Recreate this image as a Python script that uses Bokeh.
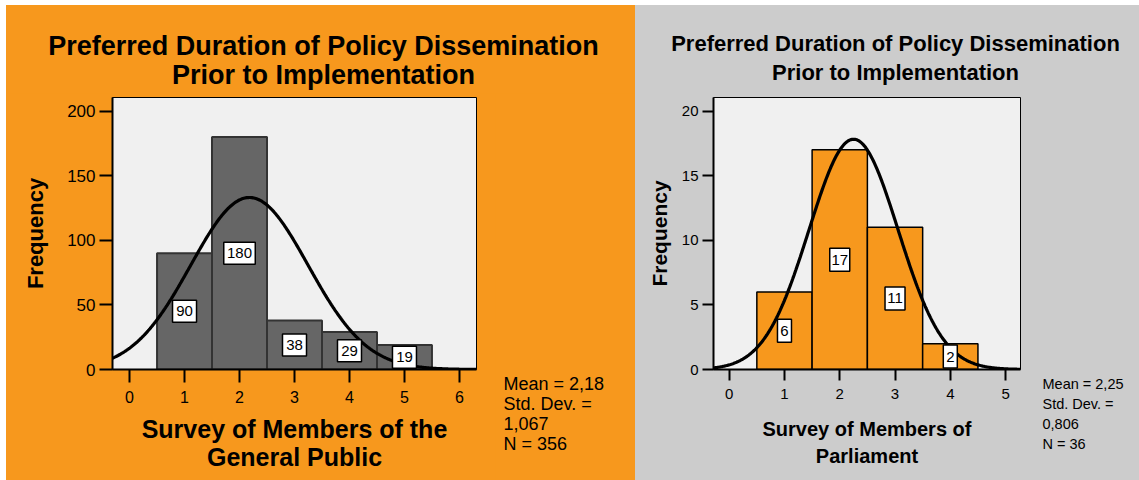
import numpy as np
from bokeh.plotting import figure
from bokeh.layouts import row, column
from bokeh.models import Spacer, Range1d
from bokeh.embed import file_html
from bokeh.resources import INLINE
from bokeh.core.properties import value

# ---------------- data ----------------
title_lines = ["Preferred Duration of Policy Dissemination", "Prior to Implementation"]

gp_values = [1, 2, 3, 4, 5]
gp_counts = [90, 180, 38, 29, 19]
gp_mean, gp_sd, gp_n = 2.18, 1.067, 356
gp_stats = ["Mean = 2,18", "Std. Dev. =", "1,067", "N = 356"]
gp_xticks = [0, 1, 2, 3, 4, 5, 6]
gp_yticks = [0, 50, 100, 150, 200]
gp_xlabel = "Survey of Members of the\nGeneral Public"

mp_values = [1, 2, 3, 4]
mp_counts = [6, 17, 11, 2]
mp_mean, mp_sd, mp_n = 2.25, 0.806, 36
mp_stats = ["Mean = 2,25", "Std. Dev. =", "0,806", "N = 36"]
mp_xticks = [0, 1, 2, 3, 4, 5]
mp_yticks = [0, 5, 10, 15, 20]
mp_xlabel = "Survey of Members of\nParliament"

FONT = "Liberation Sans"
ORANGE = "#F7981D"
GRAY = "#CCCCCC"
TITLE_H = 88     # height of the title strip
CHART_H = 387    # height of the chart strip
CTOP = 4         # gap between title strip and plot frame
FH = 272         # plot frame height


def text_canvas(w, h, bg):
    """A borderless figure whose frame is the whole canvas (pixel coordinates, y down)."""
    f = figure(width=w, height=h, x_range=Range1d(0, w), y_range=Range1d(h, 0),
               output_backend="svg", toolbar_location=None,
               min_border=0, min_border_left=0, min_border_right=0,
               min_border_top=0, min_border_bottom=0,
               background_fill_color=bg, border_fill_color=bg,
               outline_line_color=None, frame_align=False)
    f.axis.visible = False
    f.grid.visible = False
    return f


def make_chart(cfg):
    W, L, FW = cfg["chart_w"], cfg["left"], cfg["frame_w"]
    xr, yr = cfg["xr"], cfg["yr"]
    p = figure(width=W, height=CHART_H, x_range=xr, y_range=yr,
               output_backend="svg", toolbar_location=None,
               min_border_left=L, min_border_right=W - L - FW,
               min_border_top=CTOP, min_border_bottom=CHART_H - CTOP - FH,
               background_fill_color="#F0F0F0", border_fill_color=cfg["bg"],
               outline_line_color="black", outline_line_width=1,
               frame_align=False)
    p.grid.visible = False
    for ax, ticks, fs in ((p.xaxis, cfg["xticks"], cfg["xtick_fs"]),
                          (p.yaxis, cfg["yticks"], cfg["ytick_fs"])):
        ax.ticker = ticks
        ax.axis_line_width = 2
        ax.axis_line_color = "black"
        ax.major_tick_line_width = 2
        ax.major_tick_in = 0
        ax.major_tick_out = cfg["tick_out"]
        ax.minor_tick_line_color = None
        ax.major_label_text_font = FONT
        ax.major_label_text_font_size = fs
        ax.major_label_text_color = "black"
        ax.axis_label_text_font = FONT
        ax.axis_label_text_font_style = "bold"
        ax.axis_label_text_color = "black"
    p.xaxis.major_label_standoff = 8
    p.yaxis.major_label_standoff = 4

    p.yaxis.axis_label = "Frequency"
    p.yaxis.axis_label_text_font_size = cfg["freq_fs"]
    p.yaxis.axis_label_standoff = cfg["freq_standoff"]

    p.xaxis.axis_label = cfg["xlabel"]
    p.xaxis.axis_label_text_font_size = cfg["xlabel_fs"]
    p.xaxis.axis_label_standoff = cfg["xlabel_standoff"]
    p.xaxis.axis_label_text_line_height = cfg["xlabel_lh"]

    vals = np.array(cfg["values"], dtype=float)
    cnts = np.array(cfg["counts"], dtype=float)
    p.quad(left=vals - 0.5, right=vals + 0.5, bottom=0, top=cnts,
           fill_color=cfg["bar_fill"], line_color=cfg["bar_line"],
           line_width=cfg["bar_lw"])

    xs = np.linspace(xr[0], xr[1], 400)
    m, s, n = cfg["mean"], cfg["sd"], cfg["n"]
    ys = n * np.exp(-0.5 * ((xs - m) / s) ** 2) / (s * np.sqrt(2 * np.pi))
    p.line(xs, ys, line_width=3.2, line_color="black")

    labels = [str(int(c)) for c in cnts]
    bw = [cfg["box_base"] + cfg["box_per"] * len(t) for t in labels]
    p.rect(x=vals, y=cnts / 2, width=bw, height=cfg["box_h"],
           width_units="screen", height_units="screen",
           fill_color="white", line_color="black", line_width=1.5)
    p.text(x=vals, y=cnts / 2, text=labels, text_align="center",
           text_baseline="middle", text_font=value(FONT),
           text_font_size=cfg["count_fs"], text_color="black")
    return p


def make_panel(cfg):
    PW = cfg["panel_w"]
    # title strip
    t = text_canvas(PW, TITLE_H, cfg["bg"])
    t.text(x=[cfg["title_cx"]] * 2, y=list(cfg["title_y"]), text=title_lines,
           text_align="center", text_baseline="middle",
           text_font=value(FONT), text_font_style="bold",
           text_font_size=cfg["title_fs"], text_color="black")
    # chart
    p = make_chart(cfg)
    # statistics strip to the right of the chart
    sw = PW - cfg["chart_w"]
    s = text_canvas(sw, CHART_H, cfg["bg"])
    s.text(x=[cfg["stats_x"]] * len(cfg["stats"]),
           y=[cfg["stats_y0"] + i * cfg["stats_dy"] for i in range(len(cfg["stats"]))],
           text=cfg["stats"], text_align="left", text_baseline="middle",
           text_font=value(FONT), text_font_size=cfg["stats_fs"], text_color="black")
    return column(t, row(p, s, spacing=0), spacing=0,
                  styles={"background-color": cfg["bg"]})


left_cfg = dict(panel_w=629, chart_w=489, left=106, frame_w=364,
                xr=(-0.31, 6.31), yr=(0, 210.5), bg=ORANGE, tick_out=13,
                xticks=gp_xticks, yticks=gp_yticks,
                xtick_fs="16px", ytick_fs="17px",
                values=gp_values, counts=gp_counts,
                mean=gp_mean, sd=gp_sd, n=gp_n,
                bar_fill="#666666", bar_line="#333333", bar_lw=2,
                box_base=9, box_per=7.5, box_h=22, count_fs="15px",
                title_cx=317, title_y=(40, 69), title_fs="27px",
                freq_fs="22px", freq_standoff=16,
                xlabel=gp_xlabel, xlabel_fs="25px", xlabel_standoff=9, xlabel_lh=1.0,
                stats=gp_stats, stats_fs="18px", stats_x=8, stats_y0=290, stats_dy=20)

right_cfg = dict(panel_w=504, chart_w=400, left=78, frame_w=307,
                 xr=(-0.284, 5.27), yr=(0, 21.05), bg=GRAY, tick_out=11,
                 xticks=mp_xticks, yticks=mp_yticks,
                 xtick_fs="15px", ytick_fs="15px",
                 values=mp_values, counts=mp_counts,
                 mean=mp_mean, sd=mp_sd, n=mp_n,
                 bar_fill=ORANGE, bar_line="black", bar_lw=1.5,
                 box_base=8, box_per=6, box_h=23, count_fs="15px",
                 title_cx=260, title_y=(38, 67), title_fs="22px",
                 freq_fs="21px", freq_standoff=8,
                 xlabel=mp_xlabel, xlabel_fs="20px", xlabel_standoff=16, xlabel_lh=1.26,
                 stats=mp_stats, stats_fs="14.5px", stats_x=7, stats_y0=290, stats_dy=20)

panel_l = make_panel(left_cfg)
panel_r = make_panel(right_cfg)
layout = column(Spacer(height=5),
                row(Spacer(width=6), panel_l, panel_r, spacing=0),
                spacing=0)

open("out.html", "w").write(file_html(layout, INLINE))
